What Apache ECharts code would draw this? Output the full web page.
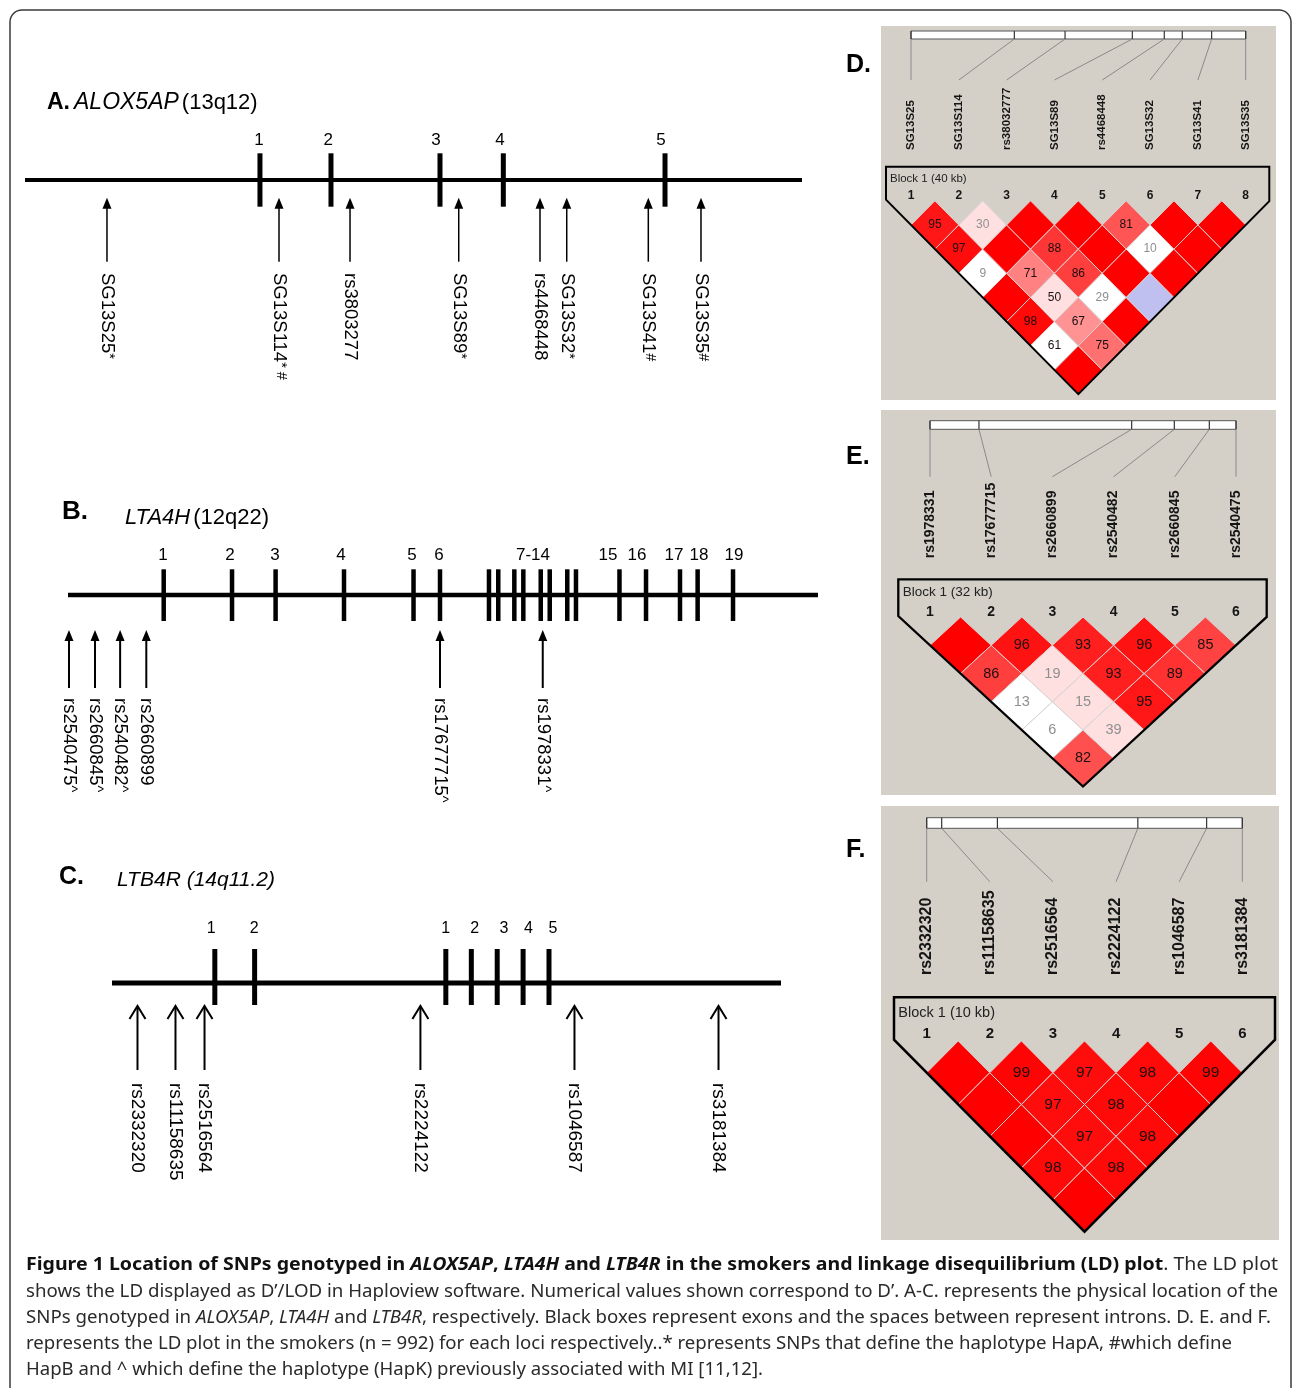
<!DOCTYPE html>
<html><head><meta charset="utf-8">
<script src="https://cdn.jsdelivr.net/npm/echarts@6/dist/echarts.min.js"></script>
<style>html,body{margin:0;padding:0;background:#fff}#c{width:1293px;height:1388px}</style>
</head><body><div id="c"></div>
<script>
// ================= DATA =================
// Gene maps: positions are % along the drawn gene span
const aExonPos = [30.24, 39.38, 53.41, 61.56, 82.37];
const aExonLabels = ['1', '2', '3', '4', '5'];
const aExonLabelPos = [30.11, 39.03, 52.9, 61.13, 81.85];
const aSnpPos = [10.55, 32.69, 41.83, 55.82, 66.28, 69.72, 80.22, 87.0];
const aSnpNames = ['SG13S25', 'SG13S114', 'rs3803277', 'SG13S89', 'rs4468448', 'SG13S32', 'SG13S41', 'SG13S35'];
const aSnpMarks = ['*', '* #', '', '*', '', '*', '#', '#'];

const bExonPos = [12.76, 21.87, 27.68, 36.8, 46.07, 49.6, 56.13, 57.37, 59.51, 60.71, 63.03, 64.23, 66.57, 67.73, 73.53, 77.07, 81.6, 83.95, 88.67];
const bExonLabels = ['1', '2', '3', '4', '5', '6', '7-14', '15', '16', '17', '18', '19'];
const bExonLabelPos = [12.67, 21.6, 27.6, 36.4, 45.87, 49.47, 62.0, 72.0, 75.87, 80.8, 84.13, 88.8];
const bSnpPos = [0.13, 3.6, 6.95, 10.44, 49.6, 63.3];
const bSnpNames = ['rs2540475', 'rs2660845', 'rs2540482', 'rs2660899', 'rs17677715', 'rs1978331'];
const bSnpMarks = ['^', '^', '^', '', '^', '^'];

const cExonPos = [15.37, 21.32, 49.9, 53.71, 57.58, 61.45, 65.32];
const cExonLabels = ['1', '2', '1', '2', '3', '4', '5'];
const cExonLabelPos = [14.83, 21.24, 49.88, 54.23, 58.58, 62.24, 65.92];
const cSnpPos = [3.81, 9.49, 13.83, 46.1, 69.13, 90.66];
const cSnpNames = ['rs2332320', 'rs11158635', 'rs2516564', 'rs2224122', 'rs1046587', 'rs3181384'];
const cSnpMarks = ['', '', '', '', '', ''];

// LD plots: D' x100 for pairs (i, j>i), row i lists j = i+1..n
const dNames = ['SG13S25', 'SG13S114', 'rs38032777', 'SG13S89', 'rs4468448', 'SG13S32', 'SG13S41', 'SG13S35'];
const dKb = [0, 12.35, 18.41, 26.45, 30.27, 32.42, 35.93, 40];
const dBlockKb = 40;
const dDprime = [
  [95, 97, 9, 100, 98, 61, 100],
  [30, 100, 71, 50, 67, 75],
  [100, 88, 86, 29, 100],
  [100, 100, 100, 100],
  [81, 10, 100],
  [100, 100],
  [100]
];
const dLowLod = [[1, 4], [1, 7], [3, 7], [4, 8], [5, 7]];

const eNames = ['rs1978331', 'rs17677715', 'rs2660899', 'rs2540482', 'rs2660845', 'rs2540475'];
const eKb = [0, 5.12, 21.09, 25.55, 29.21, 32];
const eBlockKb = 32;
const eDprime = [
  [100, 86, 13, 6, 82],
  [96, 19, 15, 39],
  [93, 93, 95],
  [96, 89],
  [85]
];
const eLowLod = [[1, 4], [1, 5]];

const fNames = ['rs2332320', 'rs11158635', 'rs2516564', 'rs2224122', 'rs1046587', 'rs3181384'];
const fKb = [0, 0.475, 2.24, 6.69, 8.87, 10];
const fBlockKb = 10;
const fDprime = [
  [100, 100, 100, 98, 100],
  [99, 97, 97, 98],
  [97, 98, 98],
  [98, 100],
  [99]
];
const fLowLod = [];

// ================= BUILD =================
const FONT = '"Liberation Sans", Arial, Helvetica, sans-serif';
const grids = [], xAxes = [], yAxes = [], series = [];

function genePanel(k, cfg) {
  grids.push({ left: cfg.x0, width: cfg.x1 - cfg.x0, top: cfg.lineY - 50, height: 100 });
  xAxes.push({ type: 'value', gridIndex: k, min: 0, max: 100, show: false });
  yAxes.push({ type: 'value', gridIndex: k, min: -1, max: 1, show: false });
  series.push({
    type: 'line', xAxisIndex: k, yAxisIndex: k, data: [[0, 0], [100, 0]], symbol: 'none',
    lineStyle: { color: '#000', width: cfg.lineW }, silent: true
  });
  series.push({
    type: 'custom', xAxisIndex: k, yAxisIndex: k, clip: false, silent: true,
    data: cfg.exonPos.map(p => [p, 0]),
    renderItem: (params, api) => {
      const c = api.coord([api.value(0), 0]);
      return { type: 'rect', shape: { x: c[0] - cfg.exonW / 2, y: c[1] - cfg.exonUp, width: cfg.exonW, height: cfg.exonUp + cfg.exonDown }, style: { fill: '#000' } };
    }
  });
  series.push({
    type: 'custom', xAxisIndex: k, yAxisIndex: k, clip: false, silent: true,
    data: cfg.exonLabelPos.map(p => [p, 0]),
    renderItem: (params, api) => {
      const c = api.coord([api.value(0), 0]);
      return { type: 'text', x: c[0], y: c[1] + cfg.exonLabelDy, style: { text: cfg.exonLabels[params.dataIndex], font: cfg.exonLabelFs + 'px ' + FONT, fill: '#000', align: 'center', verticalAlign: 'middle' } };
    }
  });
  series.push({
    type: 'custom', xAxisIndex: k, yAxisIndex: k, clip: false, silent: true,
    data: cfg.snpPos.map(p => [p, 0]),
    renderItem: (params, api) => {
      const c = api.coord([api.value(0), 0]);
      const x = c[0], y = c[1];
      const ch = [];
      if (cfg.head === 'filled') {
        ch.push({ type: 'polygon', shape: { points: [[x, y + cfg.tip], [x - cfg.headW, y + cfg.tip + cfg.headH], [x + cfg.headW, y + cfg.tip + cfg.headH]] }, style: { fill: '#000' } });
        ch.push({ type: 'line', shape: { x1: x, y1: y + cfg.tip + cfg.headH - 1, x2: x, y2: y + cfg.tail }, style: { stroke: '#000', lineWidth: cfg.shaftW } });
      } else {
        ch.push({ type: 'polyline', shape: { points: [[x - cfg.headW, y + cfg.tip + cfg.headH], [x, y + cfg.tip], [x + cfg.headW, y + cfg.tip + cfg.headH]] }, style: { stroke: '#000', lineWidth: cfg.shaftW, fill: null } });
        ch.push({ type: 'line', shape: { x1: x, y1: y + cfg.tip + 1, x2: x, y2: y + cfg.tail }, style: { stroke: '#000', lineWidth: cfg.shaftW } });
      }
      const nm = cfg.snpNames[params.dataIndex], mk = cfg.snpMarks[params.dataIndex];
      ch.push({
        type: 'text', x: x, y: y + cfg.textStart, rotation: -Math.PI / 2,
        style: {
          text: mk ? '{m|' + nm + '}{s|' + mk + '}' : '{m|' + nm + '}',
          rich: {
            m: { font: cfg.labelFs + 'px ' + FONT, fill: '#000' },
            s: { font: (cfg.labelFs - 4) + 'px ' + FONT, fill: '#000', verticalAlign: 'top' }
          },
          align: 'left', verticalAlign: 'middle'
        }
      });
      return { type: 'group', children: ch };
    }
  });
}

function ldColor(d, high) {
  const dp = d / 100;
  if (high) {
    if (dp < 0.5) return 'rgb(255,224,224)';
    const g = Math.round((255 - 32) * 2 * (1 - dp));
    return 'rgb(255,' + g + ',' + g + ')';
  }
  if (dp > 0.99) return 'rgb(192,192,240)';
  return '#ffffff';
}

function ldPanel(k, cfg) {
  const n = cfg.names.length;
  grids.push({ left: cfg.x1, width: cfg.xn - cfg.x1, top: cfg.y0, height: (n - 1) * cfg.rowH });
  xAxes.push({ type: 'value', gridIndex: k, min: 1, max: n, show: false });
  yAxes.push({ type: 'value', gridIndex: k, min: 0, max: n - 1, inverse: true, show: false });
  // ruler bar
  series.push({
    type: 'custom', xAxisIndex: k, yAxisIndex: k, clip: false, silent: true, data: [[1, 0]],
    renderItem: (params, api) => {
      const a = api.coord([1, 0]), b = api.coord([n, 0]);
      return { type: 'rect', shape: { x: a[0], y: a[1] + cfg.rulerTop, width: b[0] - a[0], height: cfg.rulerBot - cfg.rulerTop }, style: { fill: '#fff', stroke: '#555', lineWidth: 1 } };
    }
  });
  // header: ticks, connectors, names, numbers
  series.push({
    type: 'custom', xAxisIndex: k, yAxisIndex: k, clip: false, silent: true,
    data: cfg.names.map((nm, i) => [i + 1, 0]),
    renderItem: (params, api) => {
      const i = params.dataIndex;
      const lab = api.coord([i + 1, 0]);
      const tk = api.coord([1 + cfg.kb[i] / cfg.blockKb * (n - 1), 0]);
      const y0 = lab[1];
      return {
        type: 'group', children: [
          { type: 'line', shape: { x1: tk[0], y1: y0 + cfg.rulerBot, x2: lab[0], y2: y0 + cfg.connEnd }, style: { stroke: '#8a8a8a', lineWidth: 1 } },
          { type: 'line', shape: { x1: tk[0], y1: y0 + cfg.rulerTop, x2: tk[0], y2: y0 + cfg.rulerBot }, style: { stroke: '#333', lineWidth: 1.2 } },
          { type: 'text', x: lab[0], y: y0 + cfg.labelBot, rotation: Math.PI / 2, style: { text: cfg.names[i], font: 'bold ' + cfg.labelFs + 'px ' + FONT, fill: '#151515', align: 'left', verticalAlign: 'middle' } },
          { type: 'text', x: lab[0], y: y0 + cfg.numY, style: { text: String(i + 1), font: 'bold ' + cfg.numFs + 'px ' + FONT, fill: '#151515', align: 'center', verticalAlign: 'middle' } }
        ]
      };
    }
  });
  // cells
  const cells = [];
  cfg.dprime.forEach((row, a) => row.forEach((v, b) => {
    const i = a + 1, j = i + 1 + b;
    const low = cfg.lowLod.some(p => p[0] === i && p[1] === j);
    cells.push([(i + j) / 2, j - i, v, low ? 0 : 1]);
  }));
  series.push({
    type: 'custom', xAxisIndex: k, yAxisIndex: k, clip: false, silent: true, data: cells,
    renderItem: (params, api) => {
      const c = api.coord([api.value(0), api.value(1)]);
      const s = api.size([1, 1]);
      const hw = s[0] / 2, hh = s[1];
      const d = api.value(2), high = api.value(3);
      const ch = [{ type: 'polygon', shape: { points: [[c[0], c[1] - hh], [c[0] + hw, c[1]], [c[0], c[1] + hh], [c[0] - hw, c[1]]] }, style: { fill: ldColor(d, high), stroke: '#d9d2d2', lineWidth: 1 } }];
      if (d < 100) ch.push({ type: 'text', x: c[0], y: c[1], style: { text: String(d), font: cfg.cellFs + 'px ' + FONT, fill: d < 50 ? '#8f8f8f' : '#1c1010', align: 'center', verticalAlign: 'middle' } });
      return { type: 'group', children: ch };
    }
  });
  // block outline
  series.push({
    type: 'custom', xAxisIndex: k, yAxisIndex: k, clip: false, silent: true, data: [[1, 0]],
    renderItem: (params, api) => {
      const a = api.coord([1, 0]), b = api.coord([n, 0]);
      const s = api.size([1, 1]);
      const hw = s[0] / 2, hh = s[1], kk = hh / hw;
      const y0 = a[1];
      const xl = a[0] - cfg.mL, xr = b[0] + cfg.mR, yt = y0 + cfg.top;
      const apex = [(a[0] + b[0]) / 2, y0 + n * hh];
      const pts = [[xl, y0 + hh - cfg.mL * kk], [xl, yt], [xr, yt], [xr, y0 + hh - cfg.mR * kk], apex];
      return {
        type: 'group', children: [
          { type: 'polygon', shape: { points: pts }, style: { fill: null, stroke: '#000', lineWidth: cfg.outlineW } },
          { type: 'text', x: xl + cfg.btDx, y: yt + cfg.btDy, style: { text: 'Block 1 (' + cfg.blockKb + ' kb)', font: cfg.blockFs + 'px ' + FONT, fill: '#222', align: 'left', verticalAlign: 'middle' } }
        ]
      };
    }
  });
}

genePanel(0, { x0: 25, x1: 802, lineY: 180, lineW: 4, exonW: 5, exonUp: 26.7, exonDown: 26.7, exonLabelDy: -40, exonLabelFs: 17,
  exonPos: aExonPos, exonLabels: aExonLabels, exonLabelPos: aExonLabelPos, snpPos: aSnpPos, snpNames: aSnpNames, snpMarks: aSnpMarks,
  head: 'filled', tip: 17.7, headH: 11, headW: 4.5, shaftW: 1.5, tail: 81.7, textStart: 93, labelFs: 18.5 });
genePanel(1, { x0: 68, x1: 818, lineY: 595, lineW: 4.5, exonW: 4.5, exonUp: 25.7, exonDown: 26, exonLabelDy: -40, exonLabelFs: 17,
  exonPos: bExonPos, exonLabels: bExonLabels, exonLabelPos: bExonLabelPos, snpPos: bSnpPos, snpNames: bSnpNames, snpMarks: bSnpMarks,
  head: 'filled', tip: 35, headH: 11, headW: 4.5, shaftW: 2, tail: 93, textStart: 103, labelFs: 18.5 });
genePanel(2, { x0: 112, x1: 781, lineY: 983, lineW: 5, exonW: 5, exonUp: 34, exonDown: 22, exonLabelDy: -54, exonLabelFs: 16,
  exonPos: cExonPos, exonLabels: cExonLabels, exonLabelPos: cExonLabelPos, snpPos: cSnpPos, snpNames: cSnpNames, snpMarks: cSnpMarks,
  head: 'open', tip: 23, headH: 13, headW: 8, shaftW: 2, tail: 87, textStart: 100, labelFs: 19 });

ldPanel(3, { names: dNames, kb: dKb, blockKb: dBlockKb, dprime: dDprime, lowLod: dLowLod,
  x1: 911, xn: 1245.7, y0: 200.8, rowH: 24.17, rulerTop: -169.8, rulerBot: -161.8, connEnd: -120.8, labelBot: -50.8, numY: -4.8,
  mL: 25, mR: 23.6, top: -34.1, btDx: 4, btDy: 12.3, outlineW: 2, labelFs: 11.5, numFs: 12, cellFs: 12, blockFs: 11.5 });
ldPanel(4, { names: eNames, kb: eKb, blockKb: eBlockKb, dprime: eDprime, lowLod: eLowLod,
  x1: 930, xn: 1236, y0: 617.05, rowH: 28.25, rulerTop: -196.35, rulerBot: -187.75, connEnd: -140.35, labelBot: -58.75, numY: -5.35,
  mL: 31.7, mR: 30.7, top: -37.75, btDx: 4.4, btDy: 13.4, outlineW: 2.3, labelFs: 14, numFs: 14, cellFs: 14.5, blockFs: 13.5 });
ldPanel(5, { names: fNames, kb: fKb, blockKb: fBlockKb, dprime: fDprime, lowLod: fLowLod,
  x1: 926.7, xn: 1242.3, y0: 1040.9, rowH: 31.8, rulerTop: -223.2, rulerBot: -212.6, connEnd: -159.2, labelBot: -65.9, numY: -6.6,
  mL: 32.7, mR: 32.7, top: -43.6, btDx: 4.3, btDy: 16, outlineW: 2.5, labelFs: 16, numFs: 15, cellFs: 15.5, blockFs: 14.5 });

// ================= TEXT / DECOR =================
const CAP_FONT = '"Noto Sans", "Open Sans", sans-serif';
const capFs = 18.5;
const capStyles = {
  n: { font: capFs + 'px ' + CAP_FONT, fill: '#2a2a2a' },
  i: { font: 'italic ' + capFs + 'px ' + CAP_FONT, fill: '#2a2a2a' },
  b: { font: 'bold ' + capFs + 'px ' + CAP_FONT, fill: '#111' },
  bi: { font: 'italic bold ' + capFs + 'px ' + CAP_FONT, fill: '#111' }
};
const capLines = [
  { y: 1265, right: 1278, segs: [['b', 'Figure 1 Location of SNPs genotyped in '], ['bi', 'ALOX5AP'], ['b', ', '], ['bi', 'LTA4H'], ['b', ' and '], ['bi', 'LTB4R'], ['b', ' in the smokers and linkage disequilibrium (LD) plot'], ['n', '. The LD plot']] },
  { y: 1292, right: 1278, segs: [['n', 'shows the LD displayed as D’/LOD in Haploview software. Numerical values shown correspond to D’. A-C. represents the physical location of the']] },
  { y: 1318, right: 1271, segs: [['n', 'SNPs genotyped in '], ['i', 'ALOX5AP'], ['n', ', '], ['i', 'LTA4H'], ['n', ' and '], ['i', 'LTB4R'], ['n', ', respectively. Black boxes represent exons and the spaces between represent introns. D. E. and F.']] },
  { y: 1344, right: 1232, segs: [['n', 'represents the LD plot in the smokers (n = 992) for each loci respectively..* represents SNPs that define the haplotype HapA, #which define']] },
  { y: 1370, right: 763, segs: [['n', 'HapB and ^ which define the haplotype (HapK) previously associated with MI [11,12].']] }
];
const mctx = document.createElement('canvas').getContext('2d');
const graphics = [
  { type: 'rect', shape: { x: 10, y: 10, width: 1281, height: 1420, r: 12 }, style: { fill: null, stroke: '#3a3a3a', lineWidth: 1.5 } },
  { type: 'rect', shape: { x: 881, y: 26, width: 395, height: 374 }, style: { fill: '#d4d0c8' } },
  { type: 'rect', shape: { x: 881, y: 410, width: 395, height: 385 }, style: { fill: '#d4d0c8' } },
  { type: 'rect', shape: { x: 881, y: 806, width: 398, height: 434 }, style: { fill: '#d4d0c8' } },
  { type: 'text', x: 47, y: 103, style: { text: '{b|A.}{i|ALOX5AP}{n|(13q12)}', rich: { b: { font: 'bold 23px ' + FONT, fill: '#000', padding: [0, 4, 0, 0] }, i: { font: 'italic 23px ' + FONT, fill: '#000', padding: [0, 3, 0, 0] }, n: { font: '22px ' + FONT, fill: '#000' } }, align: 'left', verticalAlign: 'middle' } },
  { type: 'text', x: 62, y: 512, style: { text: 'B.', font: 'bold 26px ' + FONT, fill: '#000', align: 'left', verticalAlign: 'middle' } },
  { type: 'text', x: 125, y: 518, style: { text: '{i|LTA4H}{n|(12q22)}', rich: { i: { font: 'italic 22px ' + FONT, fill: '#000', padding: [0, 3, 0, 0] }, n: { font: '22px ' + FONT, fill: '#000' } }, align: 'left', verticalAlign: 'middle' } },
  { type: 'text', x: 59, y: 877, style: { text: 'C.', font: 'bold 25px ' + FONT, fill: '#000', align: 'left', verticalAlign: 'middle' } },
  { type: 'text', x: 117, y: 880, style: { text: 'LTB4R (14q11.2)', font: 'italic 21px ' + FONT, fill: '#000', align: 'left', verticalAlign: 'middle' } },
  { type: 'text', x: 846, y: 65, style: { text: 'D.', font: 'bold 25px ' + FONT, fill: '#000', align: 'left', verticalAlign: 'middle' } },
  { type: 'text', x: 846, y: 457, style: { text: 'E.', font: 'bold 25px ' + FONT, fill: '#000', align: 'left', verticalAlign: 'middle' } },
  { type: 'text', x: 846, y: 850, style: { text: 'F.', font: 'bold 25px ' + FONT, fill: '#000', align: 'left', verticalAlign: 'middle' } }
];
capLines.forEach(L => {
  let w = 0;
  L.segs.forEach(s => { mctx.font = capStyles[s[0]].font; w += mctx.measureText(s[1]).width; });
  const sx = (L.right - 26) / w;
  graphics.push({
    type: 'text', x: 26, y: L.y, scaleX: sx, scaleY: 1,
    style: { text: L.segs.map(s => '{' + s[0] + '|' + s[1] + '}').join(''), rich: capStyles, align: 'left', verticalAlign: 'middle' }
  });
});

const chart = echarts.init(document.getElementById('c'), null, { renderer: 'canvas', width: 1293, height: 1388 });
chart.setOption({
  backgroundColor: '#ffffff',
  animation: false,
  grid: grids,
  xAxis: xAxes,
  yAxis: yAxes,
  series: series,
  graphic: { elements: graphics }
});
</script>
</body></html>
